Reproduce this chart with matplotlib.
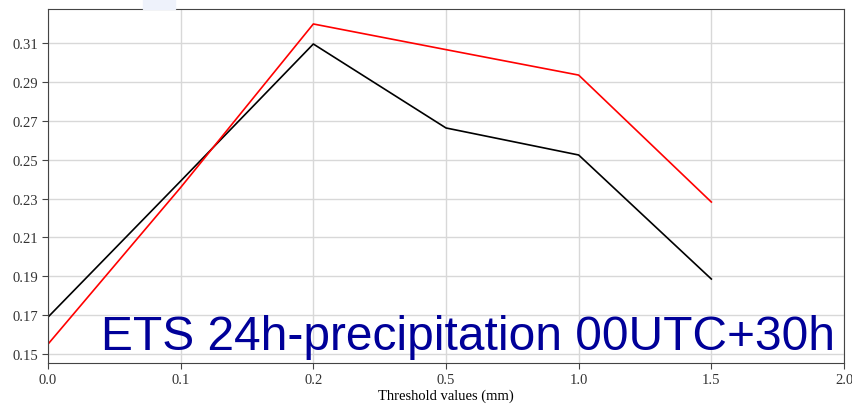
import matplotlib
matplotlib.use("Agg")
import matplotlib.pyplot as plt
from matplotlib.patches import Rectangle

# categories on the x axis (equally spaced)
thresholds = ["0.0", "0.1", "0.2", "0.5", "1.0", "1.5", "2.0"]

# ETS values
ets_black = [0.169, 0.239, 0.3095, 0.2663, 0.2524, 0.1886]
ets_red = [0.1551, 0.2357, 0.3198, 0.3066, 0.2935, 0.2282]

yticks = [0.15, 0.17, 0.19, 0.21, 0.23, 0.25, 0.27, 0.29, 0.31]

fig = plt.figure(figsize=(8.52, 4.14), dpi=100)
ax = fig.add_axes([48/852, 1-364/414, 796/852, 354/414])

xpos = list(range(len(thresholds)))
ax.plot(xpos[:len(ets_black)], ets_black, color="black", lw=1.2)
ax.plot(xpos[:len(ets_red)], ets_red, color="red", lw=1.2)

ax.set_xlim(0, len(thresholds) - 1)
ax.set_ylim(0.1454, 0.3275)
ax.set_xticks(xpos)
ax.set_xticklabels(thresholds)
ax.set_yticks(yticks)
ax.set_yticklabels(["%.2f" % v for v in yticks])
ax.grid(True, color="#d8d8d8", lw=1.0)
ax.set_axisbelow(True)

for lab in ax.get_xticklabels() + ax.get_yticklabels():
    lab.set_fontfamily("Liberation Serif")
    lab.set_fontsize(10.5)
    lab.set_color("#333333")
ax.tick_params(direction="out", length=4, color="#444444", pad=3)
for sp in ax.spines.values():
    sp.set_color("#444444")

ax.set_xlabel("Threshold values (mm)", fontfamily="Liberation Serif",
              fontsize=10.5, labelpad=2)

ax.text(0.989, 0.04, "ETS 24h-precipitation 00UTC+30h", transform=ax.transAxes,
        ha="right", va="baseline", fontsize=34.5, color="#000099",
        fontfamily="Liberation Sans")

# faint block at the very top
fig.patches.append(Rectangle((143/852, 1-10/414), 32/852, 10/414,
                             transform=fig.transFigure, color="#eef2fb", zorder=0))

fig.savefig("out.png", dpi=100)
